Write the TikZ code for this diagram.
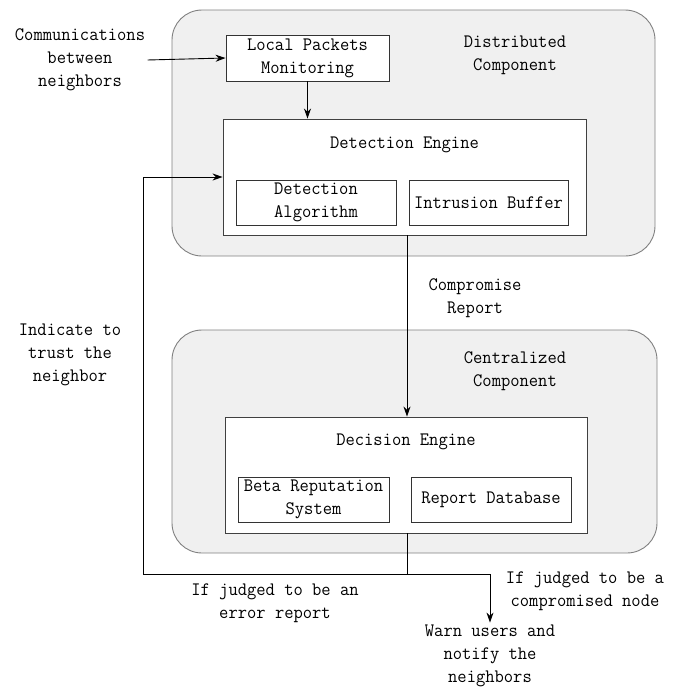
\documentclass[tikz,border=0pt]{standalone}
\usepackage{fontspec}
\usetikzlibrary{positioning,arrows.meta}
\newfontfamily\figfont[FakeStretch=0.95]{Latin Modern Mono}

\begin{document}
\begin{tikzpicture}[
    x=1pt, y=-1pt,
    font=\figfont\fontsize{19}{23}\selectfont,
    line width=0.9pt,
    component/.style={
        draw=black!50,
        fill=black!6,
        rounded corners=30pt
    },
    engine/.style={
        draw=black!75,
        fill=white
    },
    module/.style={
        draw=black!80,
        fill=white,
        align=center,
        inner sep=0pt
    },
    note/.style={align=center, inner sep=2pt},
    arrow/.style={-{Stealth[length=10pt,width=7pt]}}
]
\useasboundingbox (0,0) rectangle (677,688);

% distributed part
\node[component, minimum width=483pt, minimum height=246pt] (dist) at (413.5,133) {};
\node[note] (distlabel) at (515,55) {Distributed\\Component};
\node[module, minimum width=163pt, minimum height=46pt] (lpm) at (307.5,58) {Local Packets\\Monitoring};
\node[engine, minimum width=363pt, minimum height=116pt] (detect) at (404.5,177) {};
\node[note, below=16pt of detect.north] (detectlabel) {Detection Engine};
\node[module, minimum width=160pt, minimum height=45pt] (algo) at (316,202.5) {Detection\\Algorithm};
\node[module, minimum width=159pt, minimum height=45pt] (buffer) at (488.5,202.5) {Intrusion Buffer};

% centralized part
\node[component, minimum width=485pt, minimum height=223pt] (cent) at (414.5,441.5) {};
\node[note] (centlabel) at (515,371) {Centralized\\Component};
\node[engine, minimum width=362pt, minimum height=116pt] (decide) at (406,475) {};
\node[note, below=15pt of decide.north] (decidelabel) {Decision Engine};
\node[module, minimum width=151pt, minimum height=45pt] (beta) at (313.5,499.5) {Beta Reputation\\System};
\node[module, minimum width=160pt, minimum height=45pt] (db) at (491,499.5) {Report Database};

% outside texts
\node[note] (comm) at (80,60) {Communications\\between\\neighbors};
\node[note] (report) at (475,298) {Compromise\\Report};
\node[note] (trust) at (70,355) {Indicate to\\trust the\\neighbor};
\node[note] (error) at (275,603) {If judged to be an\\error report};
\node[note] (bad) at (585,591) {If judged to be a\\compromised node};
\node[note] (warn) at (490,656) {Warn users and\\notify the\\neighbors};

\coordinate (fork) at (407,574);
\coordinate (back) at (143,574);

\draw[arrow] (comm.east) -- (lpm.west);
\draw[arrow] (lpm) -- (lpm |- detect.north);
\draw[arrow] (fork |- detect.south) -- (fork |- decide.north);
\draw (fork |- decide.south) -- (fork);
\draw[arrow] (fork) -- (back) |- (detect.west);
\draw[arrow] (fork) -| (warn.north);
\end{tikzpicture}
\end{document}
